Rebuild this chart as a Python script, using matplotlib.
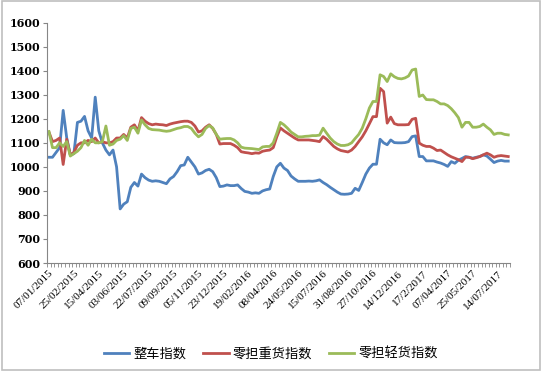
import numpy as np
import matplotlib
matplotlib.use("Agg")
from matplotlib import pyplot as plt
from matplotlib.patches import Rectangle

# weekly index values
truckload = [1040, 1040, 1060, 1080, 1235, 1120, 1050, 1055, 1185, 1190,
             1210, 1150, 1120, 1290, 1150, 1100, 1070, 1050, 1070, 1000,
             825, 845, 855, 915, 935, 920, 970, 955, 945, 940,
             942, 940, 935, 930, 950, 960, 980, 1005, 1008, 1040,
             1020, 1000, 970, 975, 985, 990, 980, 955, 918, 920,
             925, 922, 922, 925, 910, 898, 895, 890, 892, 890,
             900, 905, 908, 960, 1000, 1015, 995, 985, 962, 950,
             940, 940, 940, 941, 940, 942, 946, 935, 926, 915,
             905, 895, 887, 886, 887, 890, 911, 902, 935, 970,
             995, 1011, 1011, 1115, 1100, 1092, 1112, 1101, 1100, 1100,
             1101, 1105, 1126, 1129, 1043, 1043, 1025, 1025, 1025, 1020,
             1016, 1010, 1002, 1022, 1015, 1028, 1035, 1043, 1040, 1036,
             1040, 1043, 1050, 1045, 1032, 1018, 1024, 1027, 1024, 1024]

ltl_heavy = [1145, 1105, 1110, 1120, 1010, 1115, 1050, 1060, 1090, 1100,
             1100, 1110, 1105, 1120, 1100, 1105, 1100, 1100, 1105, 1120,
             1120, 1135, 1120, 1165, 1175, 1150, 1205, 1190, 1180, 1175,
             1178, 1176, 1175, 1172, 1178, 1182, 1185, 1188, 1190, 1190,
             1185, 1170, 1145, 1150, 1165, 1175, 1160, 1135, 1095, 1097,
             1097, 1097, 1090, 1080, 1063, 1060, 1058, 1055, 1058, 1057,
             1065, 1068, 1070, 1080, 1125, 1162, 1150, 1140, 1130, 1120,
             1112, 1112, 1112, 1112, 1110, 1108, 1105, 1126, 1115, 1100,
             1085, 1075, 1068, 1065, 1062, 1070, 1085, 1105, 1125, 1150,
             1180, 1209, 1209, 1327, 1313, 1182, 1207, 1180, 1175, 1175,
             1175, 1176, 1198, 1202, 1099, 1090, 1085, 1085, 1078, 1068,
             1070, 1060, 1050, 1042, 1036, 1030, 1022, 1040, 1040, 1034,
             1038, 1043, 1050, 1057, 1050, 1040, 1045, 1047, 1045, 1043]

ltl_light = [1147, 1080, 1080, 1100, 1085, 1105, 1045, 1055, 1065, 1080,
             1110, 1090, 1115, 1100, 1100, 1105, 1170, 1090, 1095, 1110,
             1115, 1130, 1110, 1160, 1165, 1140, 1195, 1175, 1160, 1155,
             1154, 1153, 1150, 1148, 1150, 1155, 1160, 1163, 1168, 1168,
             1160, 1140, 1125, 1135, 1160, 1172, 1162, 1135, 1115, 1117,
             1118, 1118, 1112, 1100, 1082, 1078, 1077, 1076, 1074, 1072,
             1083, 1085, 1085, 1100, 1140, 1185, 1175, 1161, 1145, 1135,
             1125, 1125, 1127, 1128, 1130, 1130, 1132, 1161, 1140, 1120,
             1105, 1095, 1089, 1089, 1092, 1100, 1118, 1135, 1161, 1200,
             1245, 1272, 1272, 1383, 1376, 1355, 1387, 1375, 1368, 1366,
             1370, 1378, 1403, 1407, 1293, 1299, 1280, 1279, 1279, 1272,
             1262, 1262, 1255, 1242, 1225, 1205, 1165, 1185, 1185, 1165,
             1165, 1168, 1178, 1165, 1154, 1135, 1140, 1140, 1135, 1133]

date_labels = ["07/01/2015", "25/02/2015", "15/04/2015", "03/06/2015",
               "22/07/2015", "09/09/2015", "05/11/2015", "23/12/2015",
               "19/02/2016", "08/04/2016", "24/05/2016", "15/07/2016",
               "31/08/2016", "27/10/2016", "14/12/2016", "17/2/2017",
               "07/04/2017", "25/05/2017", "14/07/2017"]
series_names = ["整车指数", "零担重货指数", "零担轻货指数"]

plt.rcParams['font.family'] = ['Noto Sans CJK SC', 'DejaVu Sans']

fig = plt.figure(figsize=(5.42, 3.71), dpi=100)
ax = fig.add_axes([0.087, 0.291, 0.854, 0.648])

x = np.arange(len(truckload))
colors = ["#4F81BD", "#C0504D", "#9BBB59"]
for vals, name, c in zip([truckload, ltl_heavy, ltl_light], series_names, colors):
    ax.plot(x, vals, color=c, lw=2, label=name, solid_joinstyle='round')

ax.set_xlim(-0.5, len(truckload) - 0.5)
ax.set_ylim(600, 1600)
ax.set_yticks(np.arange(600, 1601, 100))
ax.set_yticklabels([str(v) for v in range(600, 1601, 100)],
                   family='DejaVu Serif', fontweight='bold', fontsize=8)

# a date label every 7 weeks
ticks = np.arange(0, len(truckload), 7)[:len(date_labels)]
ax.set_xticks(ticks)
ax.set_xticklabels(date_labels[:len(ticks)], rotation=45, ha='right', va='top',
                   rotation_mode='anchor', family='Liberation Serif', fontsize=8)
ax.set_xticks(np.arange(-0.5, len(truckload), 1), minor=True)
ax.tick_params(axis='x', which='major', length=0, pad=4)
ax.tick_params(axis='x', which='minor', length=3, color='#868686', direction='out')
ax.tick_params(axis='y', length=3, color='#868686', pad=2)

for s in ['top', 'right']:
    ax.spines[s].set_visible(False)
for s in ['left', 'bottom']:
    ax.spines[s].set_color('#868686')
    ax.spines[s].set_linewidth(0.8)

ax.legend(loc='center', bbox_to_anchor=(0.5, 0.045), bbox_transform=fig.transFigure,
          ncol=3, frameon=False, fontsize=9.5, handlelength=1.9,
          handletextpad=0.3, columnspacing=1.3)

fig.patches.append(Rectangle((0.003, 0.004), 0.994, 0.992, transform=fig.transFigure,
                             fill=False, edgecolor='#BFBFBF', lw=1.2))

fig.savefig("out.png", dpi=100)
